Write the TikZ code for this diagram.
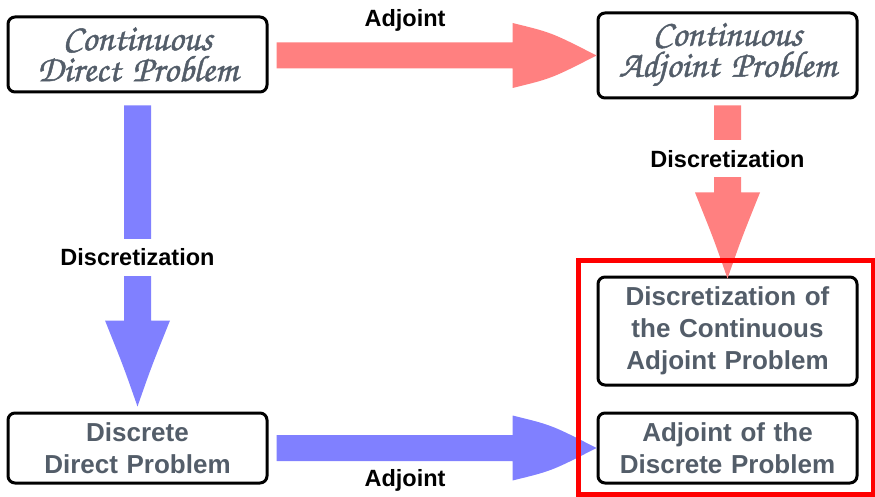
\documentclass[tikz,border=0pt]{standalone}
\usepackage[T1]{fontenc}
\usepackage{fontspec}
\setmainfont{Liberation Sans}
\usetikzlibrary{calc}
\newcommand\chanc{\fontencoding{T1}\fontfamily{pzc}\fontseries{m}\fontshape{it}\selectfont}
\newcommand\heavier[1]{\special{pdf:literal direct 2 Tr 0.45 w}#1\special{pdf:literal direct 0 Tr}}
\definecolor{boxtxt}{HTML}{535D69}
\definecolor{redA}{HTML}{FF8080}
\definecolor{blueA}{HTML}{8080FF}
\tikzset{
  box/.style={draw=black, line width=3pt, rounded corners=7pt, minimum width=259pt,
    text width=255pt, align=center, inner sep=0pt, fill=white, text=boxtxt},
  sftext/.style={font=\fontsize{26}{32}\selectfont\bfseries},
  chtext/.style={font=\chanc\fontsize{37}{31}\selectfont},
  lbl/.style={font=\fontsize{23.5}{28}\selectfont\bfseries, text=black, inner sep=0pt},
  gaplbl/.style={lbl, fill=white, minimum height=37pt, inner xsep=2pt},
  frame/.style={draw=red, line width=5pt}
}
\newcommand\fatH[3]{%
  \fill[#1] let \p1=#2, \p2=#3 in
    (\x1,\y2+13pt) -- (\x2-84pt,\y2+13pt) -- (\x2-84pt,\y2+32.5pt)
    .. controls (\x2-45pt,\y2+23pt) .. (\x2,\y2)
    .. controls (\x2-45pt,\y2-23pt) .. (\x2-84pt,\y2-32.5pt)
    -- (\x2-84pt,\y2-13pt) -- (\x1,\y2-13pt) -- cycle;}
\newcommand\fatV[3]{%
  \fill[#1] let \p1=#2, \p2=#3 in
    (\x2-13.5pt,\y1) -- (\x2-13.5pt,\y2+86pt) -- (\x2-32.5pt,\y2+86pt)
    .. controls (\x2-14pt,\y2+40pt) .. (\x2,\y2)
    .. controls (\x2+14pt,\y2+40pt) .. (\x2+32.5pt,\y2+86pt)
    -- (\x2+13.5pt,\y2+86pt) -- (\x2+13.5pt,\y1) -- cycle;}
\begin{document}
\begin{tikzpicture}[x=1pt,y=-1pt]
\useasboundingbox (0,0) rectangle (875,497);
% boxes
\node[box, chtext, minimum height=75pt] (cdp) at (137.5,54.5) {\heavier{Continuous}\\\heavier{Direct Problem}};
\node[box, chtext, minimum height=85pt] (cap) at (727.5,55.5) {\heavier{Continuous}\\\heavier{Adjoint Problem}};
\node[box, sftext, minimum height=108pt] (dcap) at (727.5,331) {Discretization of\\the Continuous\\Adjoint Problem};
\node[box, sftext, minimum height=70pt] (adp) at (727.5,448) {Adjoint of the\\Discrete Problem};
\node[box, sftext, minimum height=70pt] (ddp) at (137.5,448) {Discrete\\Direct Problem};
% arrows
\fatH{redA}{($(cdp.east)+(8,0)$)}{(cap.west)}
\fatH{blueA}{($(ddp.east)+(8,0)$)}{(adp.west)}
\fatV{blueA}{($(cdp.south)+(0,12)$)}{($(ddp.north)+(0,-5)$)}
\fatV{redA}{($(cap.south)+(0,6)$)}{($(dcap.north)+(0,3)$)}
% labels
\node[lbl] (la1) at (405,20) {Adjoint};
\node[lbl] (la2) at (405,480) {Adjoint};
\node[gaplbl] (ld1) at ($(cdp.south)!0.5!(ddp.north)+(0,4.5)$) {Discretization};
\node[gaplbl] (ld2) at ($(cap.south)+(0,59.5)$) {Discretization};
% frame
\draw[frame] ($(dcap.north west)+(-18,-15)$) rectangle ($(adp.south east)+(15,10)$);
\end{tikzpicture}
\end{document}
